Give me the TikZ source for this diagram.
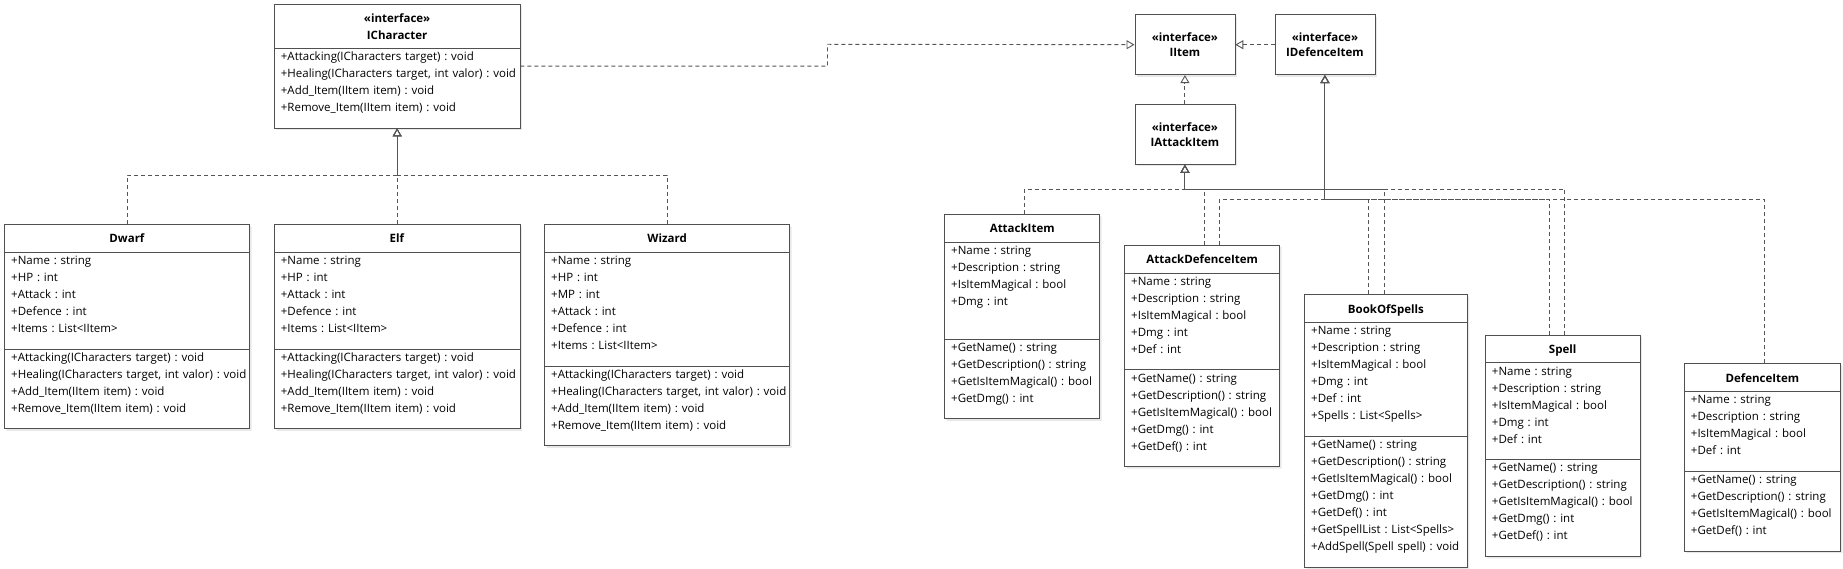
\documentclass[tikz,border=0pt]{standalone}
\usepackage{fontspec}
\setmainfont{Open Sans}
\usetikzlibrary{arrows.meta,shapes.multipart,shadows}

\definecolor{boxline}{HTML}{505050}
\definecolor{linkline}{HTML}{555555}

\newcommand\umlfont{\fontsize{11.5}{17}\selectfont\frenchspacing}
\newcommand\mem[1]{\rule[-5pt]{0pt}{17pt}\mbox{#1}\\}
\newcommand\memend[1]{\rule[-16pt]{0pt}{28pt}\mbox{#1}}
\newcommand\ttl[1]{\rule[-9pt]{0pt}{27pt}\makebox[\hsize]{\textbf{#1}}}
\newcommand\ttli[1]{\rule[-5pt]{0pt}{23pt}\makebox[\hsize]{\textbf{«interface»}}\\\rule[-8pt]{0pt}{20pt}\makebox[\hsize]{\textbf{#1}}}

\tikzset{
  umlclass/.style={rectangle split, rectangle split parts=3, draw=boxline, fill=white,
    line width=0.8pt, text width=#1, inner xsep=6.5pt, inner ysep=0pt, align=left,
    anchor=north west, drop shadow={shadow xshift=2pt, shadow yshift=-2pt, opacity=0.18}},
  umliface/.style={draw=boxline, fill=white, line width=0.8pt, minimum width=100pt,
    minimum height=60pt, inner sep=0pt, align=center, anchor=north west, font=\umlfont\bfseries,
    drop shadow={shadow xshift=2pt, shadow yshift=-2pt, opacity=0.18}},
  impl/.style={draw=linkline, line width=0.9pt, dash pattern=on 4pt off 3pt,
    -{Triangle[open, length=8pt, width=9pt]}},
}

\begin{document}
\begin{tikzpicture}[x=1pt, y=-1pt, font=\umlfont]
\useasboundingbox (0,0) rectangle (1843,569);

\coordinate (chbus) at (0,175);
\coordinate (jog) at (827.5,44.3);
\coordinate (abus) at (0,189.3);
\coordinate (dbus) at (0,199.3);

% characters
\node[umlclass=232.5pt, rectangle split parts=2] (ichar) at (274,4) {\ttli{ICharacter}
  \nodepart{two}\mem{+Attacking(ICharacters target) : void}\mem{+Healing(ICharacters target, int valor) : void}\mem{+Add\_Item(IItem item) : void}\memend{+Remove\_Item(IItem item) : void}};

\node[umlclass=232pt] (dwarf) at (4.3,224) {\ttl{Dwarf}
  \nodepart{two}\mem{+Name : string}\mem{+HP : int}\mem{+Attack : int}\mem{+Defence : int}\memend{+Items : List<IItem>}
  \nodepart{three}\mem{+Attacking(ICharacters target) : void}\mem{+Healing(ICharacters target, int valor) : void}\mem{+Add\_Item(IItem item) : void}\memend{+Remove\_Item(IItem item) : void}};

\node[umlclass=232.5pt] (elf) at (274,224) {\ttl{Elf}
  \nodepart{two}\mem{+Name : string}\mem{+HP : int}\mem{+Attack : int}\mem{+Defence : int}\memend{+Items : List<IItem>}
  \nodepart{three}\mem{+Attacking(ICharacters target) : void}\mem{+Healing(ICharacters target, int valor) : void}\mem{+Add\_Item(IItem item) : void}\memend{+Remove\_Item(IItem item) : void}};

\node[umlclass=232pt] (wizard) at (544.3,224) {\ttl{Wizard}
  \nodepart{two}\mem{+Name : string}\mem{+HP : int}\mem{+MP : int}\mem{+Attack : int}\mem{+Defence : int}\memend{+Items : List<IItem>}
  \nodepart{three}\mem{+Attacking(ICharacters target) : void}\mem{+Healing(ICharacters target, int valor) : void}\mem{+Add\_Item(IItem item) : void}\memend{+Remove\_Item(IItem item) : void}};

% items
\node[umliface] (iitem) at (1134.5,14.3) {«interface»\\[-2pt]IItem};
\node[umliface] (idef) at (1274.5,14.3) {«interface»\\[-2pt]IDefenceItem};
\node[umliface] (iatt) at (1134.5,104) {«interface»\\[-2pt]IAttackItem};

\node[umlclass=142pt] (aitem) at (944.3,214) {\ttl{AttackItem}
  \nodepart{two}\mem{+Name : string}\mem{+Description : string}\mem{+IsItemMagical : bool}\mem{+Dmg : int}\memend{}
  \nodepart{three}\mem{+GetName() : string}\mem{+GetDescription() : string}\mem{+GetIsItemMagical() : bool}\memend{+GetDmg() : int}};

\node[umlclass=142pt] (adi) at (1124.3,244.7) {\ttl{AttackDefenceItem}
  \nodepart{two}\mem{+Name : string}\mem{+Description : string}\mem{+IsItemMagical : bool}\mem{+Dmg : int}\memend{+Def : int}
  \nodepart{three}\mem{+GetName() : string}\mem{+GetDescription() : string}\mem{+GetIsItemMagical() : bool}\mem{+GetDmg() : int}\memend{+GetDef() : int}};

\node[umlclass=149.4pt] (bos) at (1304.3,294.3) {\ttl{BookOfSpells}
  \nodepart{two}\mem{+Name : string}\mem{+Description : string}\mem{+IsItemMagical : bool}\mem{+Dmg : int}\mem{+Def : int}\memend{+Spells : List<Spells>}
  \nodepart{three}\mem{+GetName() : string}\mem{+GetDescription() : string}\mem{+GetIsItemMagical() : bool}\mem{+GetDmg() : int}\mem{+GetDef() : int}\mem{+GetSpellList : List<Spells>}\memend{+AddSpell(Spell spell) : void}};

\node[umlclass=141.5pt] (spell) at (1485,334.5) {\ttl{Spell}
  \nodepart{two}\mem{+Name : string}\mem{+Description : string}\mem{+IsItemMagical : bool}\mem{+Dmg : int}\memend{+Def : int}
  \nodepart{three}\mem{+GetName() : string}\mem{+GetDescription() : string}\mem{+GetIsItemMagical() : bool}\mem{+GetDmg() : int}\memend{+GetDef() : int}};

\node[umlclass=143pt] (ditem) at (1684,363.3) {\ttl{DefenceItem}
  \nodepart{two}\mem{+Name : string}\mem{+Description : string}\mem{+IsItemMagical : bool}\memend{+Def : int}
  \nodepart{three}\mem{+GetName() : string}\mem{+GetDescription() : string}\mem{+GetIsItemMagical() : bool}\memend{+GetDef() : int}};

% realizations
\draw[impl] (dwarf.north) |- (chbus -| ichar.south) -- (ichar.south);
\draw[impl] (elf.north) -- (ichar.south);
\draw[impl] (wizard.north) |- (chbus -| ichar.south) -- (ichar.south);
\draw[impl] (ichar.east) -| (jog) -- (iitem.west);

\draw[impl] (idef.west) -- (iitem.east);
\draw[impl] (iatt.north) -- (iitem.south);

\draw[impl] ([xshift=2pt]aitem.north) |- (abus -| iatt.south) -- (iatt.south);
\draw[impl] ([xshift=2pt]adi.north) |- (abus -| iatt.south) -- (iatt.south);
\draw[impl] ([xshift=-1pt]bos.north) |- (abus -| iatt.south) -- (iatt.south);
\draw[impl] ([xshift=2pt]spell.north) |- (abus -| iatt.south) -- (iatt.south);

\draw[impl] ([xshift=17pt]adi.north) |- (dbus -| idef.south) -- (idef.south);
\draw[impl] ([xshift=-17pt]bos.north) |- (dbus -| idef.south) -- (idef.south);
\draw[impl] ([xshift=-13pt]spell.north) |- (dbus -| idef.south) -- (idef.south);
\draw[impl] ([xshift=2pt]ditem.north) |- (dbus -| idef.south) -- (idef.south);

\end{tikzpicture}
\end{document}
